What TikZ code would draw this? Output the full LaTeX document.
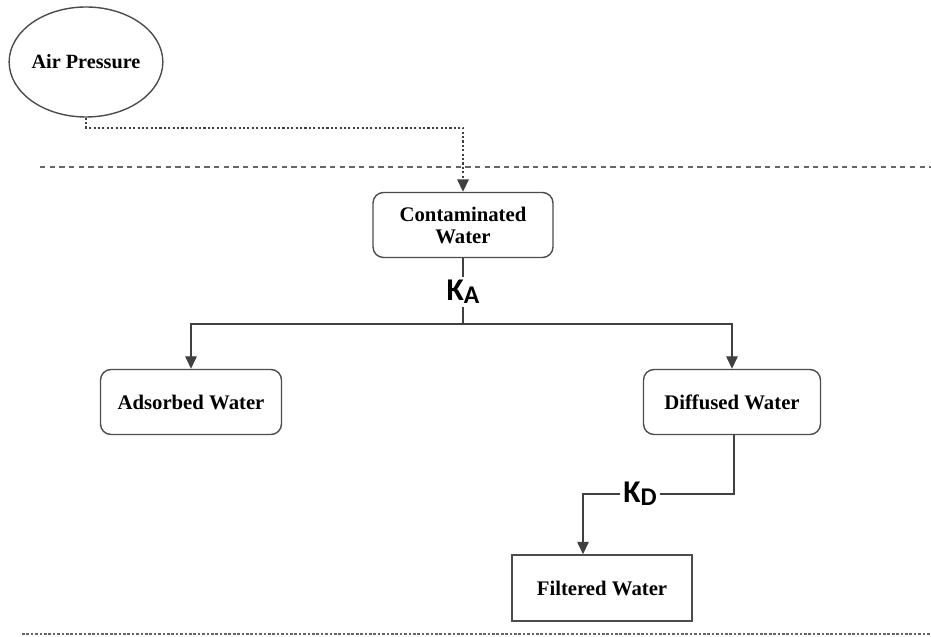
\documentclass[tikz,border=0pt]{standalone}
\usepackage{fontspec}
\setmainfont{Liberation Serif}
\newfontfamily\labelfont{Carlito}
\usetikzlibrary{arrows.meta,shapes.geometric}

\begin{document}
\begin{tikzpicture}[
        box/.style={rectangle, rounded corners=6pt, draw=black!70, line width=0.8pt, minimum width=3.6cm, minimum height=1.3cm, align=center, font=\fontsize{11.8}{12.5}\selectfont\bfseries},
        plainbox/.style={box, rounded corners=0pt},
        cloud/.style={ellipse, draw=black!70, line width=0.8pt, inner sep=0pt, minimum width=3.06cm, minimum height=2.2cm, font=\fontsize{11.5}{12.5}\selectfont\bfseries},
        arrow/.style={-{Triangle[length=2.5mm,width=2.3mm]}, draw=black!75, line width=0.8pt},
        dotarrow/.style={arrow, line width=1.1pt, dash pattern=on 1.2pt off 1.3pt},
        rate/.style={fill=white, inner sep=2pt, font=\labelfont\bfseries\fontsize{18}{19}\selectfont}
    ]
        \useasboundingbox (0,0) rectangle (18.62,-12.74);

        % Source on top of the upper line
        \node[cloud] (air) at (1.72,-1.24) {Air Pressure};

        % Separator lines
        \draw[black!60, line width=0.8pt, dash pattern=on 3pt off 2.5pt] (0.8,-3.34) -- (18.62,-3.34);
        \draw[black!60, line width=1pt, dash pattern=on 1.5pt off 1pt] (0.44,-12.68) -- (18.62,-12.68);

        % Main boxes
        \node[box] (cont) at (9.26,-4.5) {Contaminated\\Water};
        \node[box, minimum width=3.62cm] (ads) at (3.82,-8.04) {Adsorbed Water};
        \node[box, minimum width=3.54cm] (diff) at (14.64,-8.04) {Diffused Water};
        \node[plainbox, minimum height=1.32cm] (filt) at (12.04,-11.76) {Filtered Water};

        % Air pressure into the contaminated water
        \draw[dotarrow] (air.south) -- ++(0,-0.2) -| (cont.north);

        % Split after adsorption rate
        \coordinate (split) at (9.26,-6.48);
        \draw[draw=black!75, line width=0.8pt] (cont.south) -- (split);
        \node[rate] (ka) at (9.26,-5.84) {K\raisebox{-1.5pt}{\fontsize{14.5}{15}\selectfont A}};
        \draw[arrow] (split) -| (ads.north);
        \draw[arrow] (split) -| (diff.north);

        % Diffused water through to filtered water
        \coordinate (bend) at (14.68,-9.88);
        \draw[arrow] (diff.south -| bend) -- (bend) -| ([xshift=-0.38cm]filt.north);
        \node[rate] (kd) at (12.8,-9.88) {K\raisebox{-1.5pt}{\fontsize{14.5}{15}\selectfont D}};

\end{tikzpicture}
\end{document}
